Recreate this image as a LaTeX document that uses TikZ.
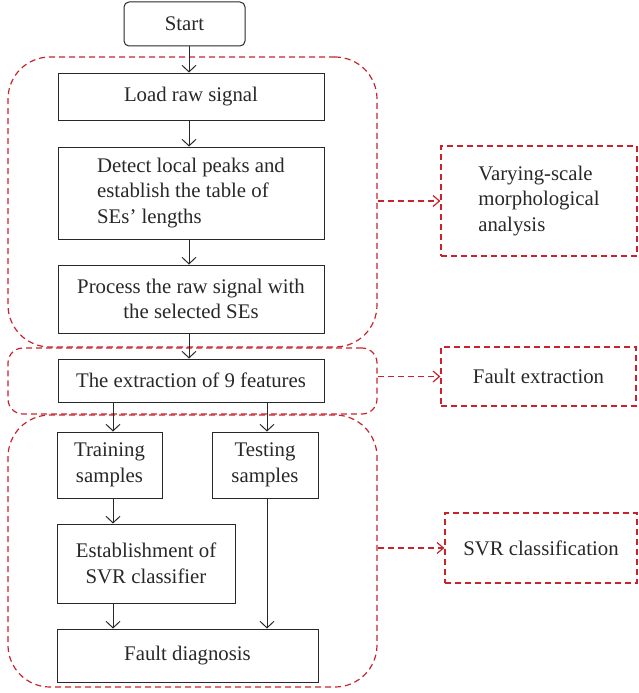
\documentclass[tikz,border=0pt]{standalone}
\usepackage{fontspec}
\setmainfont{Liberation Serif}
\usetikzlibrary{arrows.meta}
\definecolor{rd}{RGB}{200,35,45}
\definecolor{ink}{RGB}{40,40,40}
\tikzset{
  box/.style={draw=ink, line width=1pt, inner sep=2pt, align=center, text=ink},
  grp/.style={draw=rd, line width=1.2pt, dash pattern=on 6pt off 4pt},
  rbox/.style={draw=rd, line width=1.2pt, dash pattern=on 6pt off 4pt, align=left, text=ink},
  arr/.style={draw=ink, line width=1pt, -{Straight Barb[length=6.5pt,width=14pt]}},
  rarr/.style={draw=rd, line width=1.2pt, dash pattern=on 6pt off 4pt, -{Straight Barb[length=6.5pt,width=11pt]}},
}
\begin{document}
\begin{tikzpicture}[x=1pt,y=-1pt, font=\fontsize{20.8}{25.5}\selectfont]
\useasboundingbox (0,0) rectangle (639,693);
% groups
\node[grp, minimum width=369pt, minimum height=290pt, rounded corners=42pt] (g1) at (192.5,202) {};
\node[grp, minimum width=369pt, minimum height=66pt, rounded corners=15pt] (g2) at (192.5,381) {};
\node[grp, minimum width=369pt, minimum height=272pt, rounded corners=42pt] (g3) at (192.5,551) {};
% main flow
\node[box, rounded corners=5pt, minimum width=121pt, minimum height=44pt] (start) at (184.5,24) {Start};
\node[box, minimum width=266pt, minimum height=47pt] (load) at (191,96.5) {Load raw signal};
\node[box, minimum width=266pt, minimum height=92pt, align=left] (detect) at (191,193) {Detect local peaks and\\establish the table of\\SEs’ lengths};
\node[box, minimum width=266pt, minimum height=68pt] (process) at (191,299) {Process the raw signal with\\the selected SEs};
\node[box, minimum width=266pt, minimum height=43pt] (extract) at (191,380.5) {The extraction of 9 features};
\node[box, minimum width=105pt, minimum height=66pt] (train) at (109.5,465) {Training\\samples};
\node[box, minimum width=106pt, minimum height=66pt] (test) at (265,465) {Testing\\samples};
\node[box, minimum width=178pt, minimum height=79pt] (estab) at (146,563.5) {Establishment of\\SVR classifier};
\node[box, minimum width=261pt, minimum height=53pt] (fault) at (187.5,655.5) {Fault diagnosis};
% right boxes
\node[rbox, minimum width=196pt, minimum height=110pt] (rv) at (539,201) {Varying-scale\\morphological\\analysis};
\node[rbox, minimum width=195pt, minimum height=59pt] (rf) at (538.5,376.5) {Fault extraction};
\node[rbox, minimum width=192pt, minimum height=70pt] (rs) at (541,548) {SVR classification};
% columns
\coordinate (cm) at (189,0);
\coordinate (ca) at (113,0);
\coordinate (cb) at (267,0);
% arrows
\draw[arr] (start.south -| cm) -- (load.north -| cm);
\draw[arr] (load.south -| cm) -- (detect.north -| cm);
\draw[arr] (detect.south -| cm) -- (process.north -| cm);
\draw[arr] (process.south -| cm) -- (extract.north -| cm);
\draw[arr] (extract.south -| ca) -- (train.north -| ca);
\draw[arr] (extract.south -| cb) -- (test.north -| cb);
\draw[arr] (train.south -| ca) -- (estab.north -| ca);
\draw[arr] (estab.south -| ca) -- (fault.north -| ca);
\draw[arr] (test.south -| cb) -- (fault.north -| cb);
% dashed arrows
\draw[rarr] (rv.west -| g1.east) -- (rv.west);
\draw[rarr] (rf.west -| g2.east) -- (rf.west);
\draw[rarr] (rs.west -| g3.east) -- (rs.west);
\end{tikzpicture}
\end{document}
